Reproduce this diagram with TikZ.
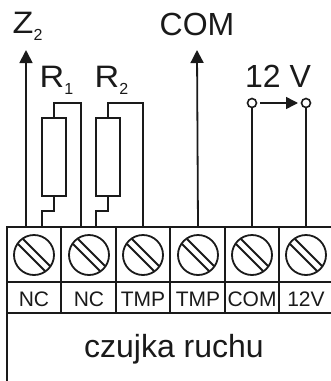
\documentclass[tikz,border=0pt]{standalone}
\usepackage{fontspec}
\setmainfont{Liberation Sans}
\newfontfamily\widefont[FakeStretch=1.1]{Liberation Sans}
\usetikzlibrary{arrows.meta}
\definecolor{inkline}{HTML}{1A1A1A}
\newcommand{\lowtxt}[1]{\lower7.5pt\hbox{\normalfont\fontsize{16}{16}\selectfont #1}}
\tikzset{
    wire/.style = {draw=inkline, line width=1.8pt},
    wire-arrow/.style = {wire, -{Triangle[length=13pt,width=13pt]}},
    small-arrow/.style = {draw=inkline, line width=1.5pt, -{Triangle[length=12pt,width=12pt]}},
    resistor/.style = {draw=inkline, fill=white, line width=1.8pt, rectangle, minimum width=24pt, minimum height=78pt, inner sep=0pt},
    screw/.style = {draw=inkline, line width=1.8pt, circle, minimum size=40pt, inner sep=0pt},
    terminal-pin/.style = {draw=inkline, fill=white, line width=1.6pt, circle, minimum size=9pt, inner sep=0pt},
    pin-label/.style = {text=inkline, font=\fontsize{21}{21}\selectfont},
    big-label/.style = {text=inkline, font=\fontsize{32}{32}\selectfont},
    letter-label/.style = {text=inkline, anchor=base west, inner sep=0pt, font=\widefont\fontsize{31}{31}\selectfont},
}

\begin{document}
\begin{tikzpicture}[x=1pt, y=-1pt]
\useasboundingbox (0,0) rectangle (331,381);
% terminal strip
\draw[wire] (331,227) -- (7,227) -- (7,381);
\draw[wire] (7,282) -- (331,282);
\draw[wire] (7,313) -- (331,313);
\foreach \x in {61,116,170,225,279} {
    \draw[wire] (\x,227) -- (\x,313);
}
\foreach \x/\name/\txt in {34/a/NC, 89/b/NC, 143/c/TMP, 198/d/TMP, 252/e/COM, 306/f/12V} {
    \node[screw] (screw-\name) at (\x,255) {};
    \draw[wire] ([shift={(-11,-16)}]screw-\name.center) -- ([shift={(16,11)}]screw-\name.center);
    \draw[wire] ([shift={(-16,-11)}]screw-\name.center) -- ([shift={(11,16)}]screw-\name.center);
    \node[pin-label] (label-\name) at (\x,299) {\txt};
    \coordinate (top-\name) at (\x,227);
}
\node[big-label] (sensor) at (174,349) {czujka ruchu};

% connections
\coordinate (z-foot) at (26,227);
\node[letter-label] (z-label) at (12.5,33) {Z\lowtxt{2}};
\draw[wire-arrow] (z-foot) -- (26,50);

\node[resistor] (res-a) at (54,157) {};
\node[resistor] (res-b) at (108,157) {};
\node[letter-label] (res-a-label) at (39.5,87) {R\lowtxt{1}};
\node[letter-label] (res-b-label) at (94.5,87) {R\lowtxt{2}};
\draw[wire] (res-a.north) -- (54,103) -- (81,103) -- (81,227);
\draw[wire] (res-a.south) -- (54,211) -- (42,211) -- (42,227);
\draw[wire] (res-b.north) -- (108,103) -- (143,103) -- (top-c);
\draw[wire] (res-b.south) -- (108,211) -- (96,211) -- (96,227);

\node[big-label] (com-label) at (197,24) {COM};
\draw[wire-arrow] (top-d) -- (197,50);

\node[big-label] (volt-label) at (278,76) {12 V};
\node[terminal-pin] (pin-e) at (252,103) {};
\node[terminal-pin] (pin-f) at (306,103) {};
\draw[wire] (top-e) -- (pin-e);
\draw[wire] (top-f) -- (pin-f);
\draw[small-arrow] (260,103) -- (298,103);
\end{tikzpicture}
\end{document}
